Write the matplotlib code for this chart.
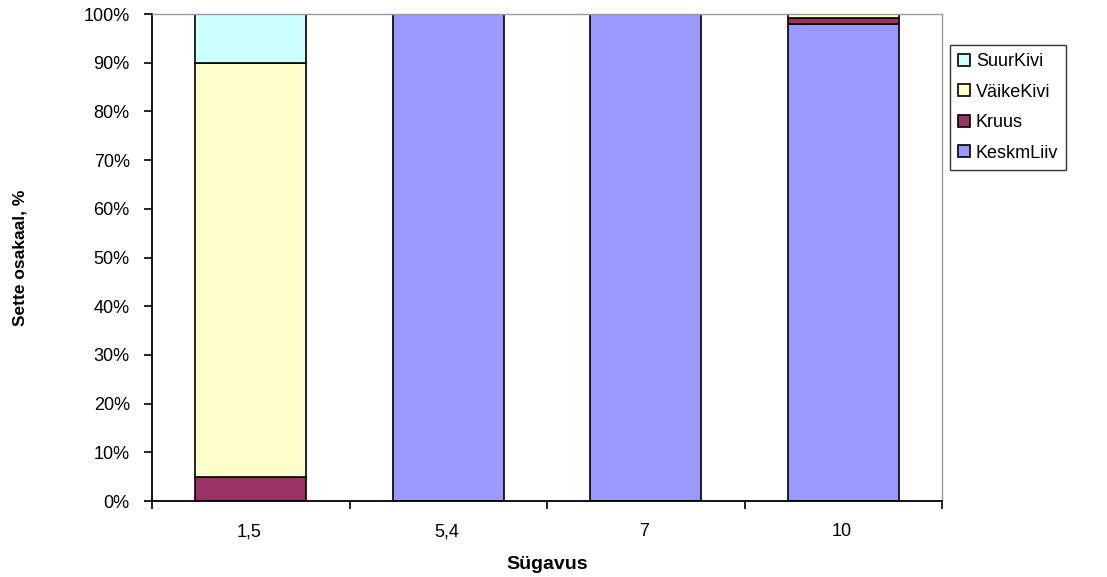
import numpy as np
import matplotlib.pyplot as plt
from matplotlib.ticker import FuncFormatter, FixedLocator

plt.rcParams['font.family'] = ['Liberation Sans', 'DejaVu Sans']

# depth categories and share of each sediment class (%)
depths = ['1,5', '5,4', '7', '10']
keskmliiv = [0, 100, 100, 98]
kruus = [5, 0, 0, 1.2]
vaikekivi = [85, 0, 0, 0.8]
suurkivi = [10, 0, 0, 0]

series = [('KeskmLiiv', keskmliiv, '#9999FF'),
          ('Kruus', kruus, '#993366'),
          ('VäikeKivi', vaikekivi, '#FFFFCC'),
          ('SuurKivi', suurkivi, '#CCFFFF')]

fig = plt.figure(figsize=(11.07, 5.77), dpi=100)
ax = fig.add_axes([0.1373, 0.1317, 0.7137, 0.8440])

x = np.arange(len(depths))
bottom = np.zeros(len(depths))
handles = []
for name, vals, col in series:
  vals = np.array(vals, dtype=float)
  b = ax.bar(x, vals, 0.56, bottom=bottom, color=col, edgecolor='black',
             linewidth=1.2, label=name)
  handles.append(b)
  bottom += vals

ax.set_xlim(-0.5, len(depths) - 0.5)
ax.set_ylim(0, 100)
ax.set_yticks(np.arange(0, 101, 10))
ax.yaxis.set_major_formatter(FuncFormatter(lambda v, p: '%d%%' % v))
ax.set_xticks(x - 0.01)
ax.set_xticklabels(depths)
ax.xaxis.set_minor_locator(FixedLocator(np.arange(-0.5, len(depths), 1)))
ax.tick_params(axis='x', which='major', length=0, pad=16, labelsize=13)
ax.tick_params(axis='x', which='minor', length=6, width=1.2, direction='out')
ax.tick_params(axis='y', length=6, width=1.2, labelsize=13, pad=10)

for s in ['left', 'bottom']:
  ax.spines[s].set_linewidth(1.3)
for s in ['top', 'right']:
  ax.spines[s].set_color('#999999')
  ax.spines[s].set_linewidth(1.0)

ax.set_xlabel('Sügavus', fontsize=14, fontweight='bold')
ax.xaxis.set_label_coords(0.5, -0.113, transform=ax.transAxes)
ax.set_ylabel('Sette osakaal, %', fontsize=12.5, fontweight='bold')
ax.yaxis.set_label_coords(-0.157, 0.5, transform=ax.transAxes)

leg = fig.legend(handles[::-1], [s[0] for s in series][::-1],
                 loc='upper left', bbox_to_anchor=(0.858, 0.922),
                 fontsize=13, frameon=True, fancybox=False,
                 handlelength=0.65, handleheight=0.65, handletextpad=0.35,
                 labelspacing=0.75, borderpad=0.45, borderaxespad=0)
leg.get_frame().set_edgecolor('black')
leg.get_frame().set_linewidth(1.0)

plt.savefig('out.png', dpi=100)
